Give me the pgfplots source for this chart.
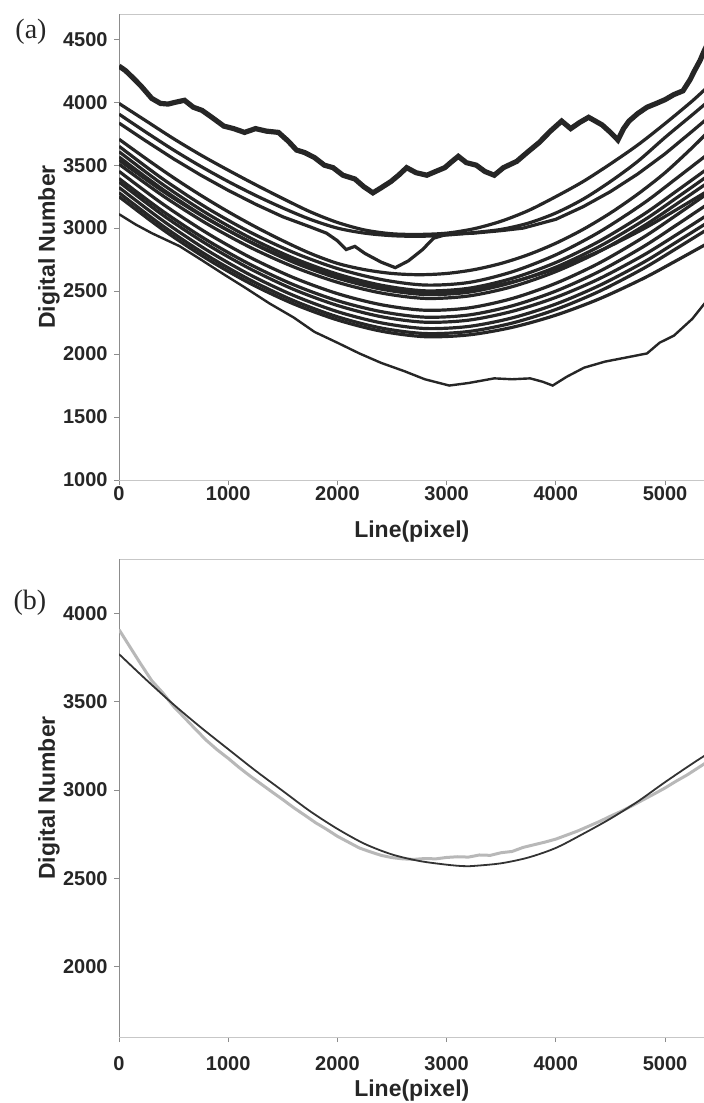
\documentclass[border=0pt]{standalone}
\usepackage{fontspec}
\setmainfont{Liberation Sans}
\newfontfamily\panelfont{Liberation Serif}
\usepackage{pgfplots}
\pgfplotsset{compat=1.18}

\pgfplotsset{
  dnaxis/.style={
    scale only axis,
    width=300pt,
    xmin=0, xmax=5494,
    separate axis lines,
    x axis line style={black!22},
    y axis line style={black!45},
    xtick={0,1000,...,5000},
    xtick pos=left, ytick pos=left,
    tick align=outside,
    major tick length=2.5pt,
    tick style={black!45, line width=0.5pt},
    scaled ticks=false,
    /pgf/number format/1000 sep={},
    /pgf/number format/assume math mode=true,
    tick label style={font=\bfseries\fontsize{10}{12}\selectfont, text=black!85},
    yticklabel style={inner sep=0pt, xshift=-3pt},
    label style={font=\bfseries\fontsize{11.5}{13}\selectfont, text=black!85},
    ylabel={Digital Number},
    xlabel={Line(pixel)},
    ylabel style={at={([xshift=-35pt]axis description cs:0,0.5)}, anchor=center},
    clip=true,
  },
  crv/.style={black!85, line width=1.6pt, smooth, no markers},
}

\begin{document}
\begin{tikzpicture}
\path[use as bounding box] (0,0) rectangle (352pt,-551.5pt);

% ---------------- (a) ----------------
\begin{axis}[dnaxis,
    at={(59.5pt,-240pt)}, anchor=south west,
    height=233pt,
    ymin=1000, ymax=4700,
    ytick={1000,1500,...,4500},
    xticklabel style={inner sep=0pt, yshift=-0.5pt},
    xlabel style={at={([yshift=-26pt]axis description cs:0.488,0)}, anchor=center},
]
% top profile
\addplot[black!85, line width=2.6pt, no markers] coordinates {
(0,4287) (60,4250) (120,4200) (200,4130) (300,4030) (380,3990) (450,3985) (520,4000)
(600,4015) (680,3960) (760,3935) (850,3880) (960,3810) (1050,3790) (1150,3760) (1250,3790)
(1350,3770) (1460,3760) (1550,3690) (1625,3620) (1700,3600) (1790,3560) (1880,3500) (1960,3480)
(2050,3420) (2160,3390) (2240,3330) (2325,3280) (2400,3320) (2490,3370) (2560,3420) (2634,3480)
(2720,3440) (2819,3420) (2900,3450) (2983,3480) (3050,3530) (3107,3570) (3180,3520) (3271,3500)
(3350,3450) (3436,3420) (3520,3480) (3642,3530) (3750,3610) (3848,3680) (3950,3770) (4053,3850)
(4136,3790) (4220,3840) (4300,3880) (4423,3820) (4500,3760) (4568,3700) (4620,3790) (4670,3850)
(4750,3910) (4835,3960) (4920,3990) (5000,4020) (5080,4060) (5164,4090) (5230,4180) (5267,4245)
(5320,4330) (5362,4415) (5400,4480)};
% upper group
\addplot[crv] coordinates {
(0,3990) (250,3850) (500,3710) (750,3580) (1000,3460) (1250,3345) (1500,3235) (1750,3130)
(2000,3045) (2250,2985) (2500,2955) (2750,2950) (3000,2960) (3250,2995) (3500,3055) (3750,3140)
(4000,3250) (4250,3370) (4500,3510) (4750,3660) (5000,3830) (5250,4010) (5400,4130)};
\addplot[crv] coordinates {
(0,3905) (250,3760) (500,3620) (750,3490) (1000,3370) (1250,3260) (1500,3160) (1750,3070)
(2000,3000) (2250,2960) (2500,2940) (2750,2935) (3000,2945) (3250,2965) (3500,2990) (3750,3040)
(4000,3120) (4250,3230) (4500,3370) (4750,3530) (5000,3720) (5250,3900) (5400,4010)};
\addplot[black!85, line width=1.6pt, no markers] coordinates {
(0,3834) (250,3690) (500,3550) (750,3420) (1000,3300) (1250,3190) (1500,3090) (1750,3010)
(1900,2960) (2000,2900) (2080,2830) (2160,2855) (2250,2800) (2400,2730) (2530,2686) (2650,2740)
(2780,2830) (2880,2920) (3000,2950) (3250,2960) (3500,2980) (3700,3000) (4000,3070) (4250,3170)
(4500,3290) (4750,3430) (5000,3590) (5250,3770) (5400,3880)};
\addplot[crv] coordinates {
(0,3706) (250,3550) (500,3400) (750,3260) (1000,3130) (1250,3010) (1500,2900) (1750,2800)
(2000,2720) (2250,2670) (2500,2640) (2750,2630) (3000,2640) (3250,2670) (3500,2720) (3750,2790)
(4000,2880) (4250,2990) (4500,3120) (4750,3270) (5000,3440) (5250,3640) (5400,3770)};
% main bundle
\addplot[crv] coordinates {(0,3650) (400,3391) (800,3163) (1200,2968) (1600,2806) (2000,2679) (2400,2592) (2800,2548) (3200,2568) (3600,2653) (4000,2788) (4400,2970) (4800,3195) (5100,3392) (5400,3593)};
\addplot[crv] coordinates {(0,3607) (400,3347) (800,3119) (1200,2923) (1600,2761) (2000,2635) (2400,2547) (2800,2502) (3200,2522) (3600,2601) (4000,2727) (4400,2897) (4800,3107) (5100,3291) (5400,3479)};
\addplot[crv] coordinates {(0,3565) (400,3308) (800,3082) (1200,2889) (1600,2728) (2000,2603) (2400,2516) (2800,2473) (3200,2491) (3600,2568) (4000,2690) (4400,2855) (4800,3059) (5100,3237) (5400,3420)};
\addplot[crv] coordinates {(0,3508) (400,3258) (800,3037) (1200,2848) (1600,2692) (2000,2570) (2400,2485) (2800,2442) (3200,2461) (3600,2535) (4000,2655) (4400,2815) (4800,3015) (5100,3188) (5400,3366)};
\addplot[crv] coordinates {(0,3540) (400,3294) (800,3077) (1200,2892) (1600,2738) (2000,2618) (2400,2534) (2800,2492) (3200,2508) (3600,2573) (4000,2678) (4400,2818) (4800,2993) (5100,3144) (5400,3300)};
% lower bundle
\addplot[crv] coordinates {(0,3451) (400,3192) (800,2964) (1200,2768) (1600,2606) (2000,2480) (2400,2392) (2800,2348) (3200,2366) (3600,2441) (4000,2562) (4400,2724) (4800,2926) (5100,3101) (5400,3281)};
\addplot[crv] coordinates {(0,3394) (400,3135) (800,2907) (1200,2712) (1600,2550) (2000,2424) (2400,2337) (2800,2293) (3200,2310) (3600,2383) (4000,2500) (4400,2657) (4800,2852) (5100,3022) (5400,3196)};
\addplot[crv] coordinates {(0,3366) (400,3104) (800,2874) (1200,2677) (1600,2513) (2000,2386) (2400,2297) (2800,2253) (3200,2269) (3600,2339) (4000,2450) (4400,2599) (4800,2784) (5100,2945) (5400,3111)};
\addplot[crv] coordinates {(0,3323) (400,3060) (800,2828) (1200,2629) (1600,2465) (2000,2337) (2400,2248) (2800,2203) (3200,2219) (3600,2287) (4000,2397) (4400,2545) (4800,2727) (5100,2887) (5400,3050)};
\addplot[crv] coordinates {(0,3281) (400,3018) (800,2787) (1200,2589) (1600,2424) (2000,2296) (2400,2207) (2800,2163) (3200,2179) (3600,2246) (4000,2354) (4400,2499) (4800,2679) (5100,2836) (5400,2997)};
\addplot[crv] coordinates {(0,3250) (400,2989) (800,2759) (1200,2561) (1600,2398) (2000,2271) (2400,2182) (2800,2138) (3200,2152) (3600,2212) (4000,2309) (4400,2439) (4800,2600) (5100,2740) (5400,2884)};
% lowest profile
\addplot[black!85, line width=1.2pt, no markers] coordinates {
(0,3111) (150,3030) (300,2960) (556,2856) (750,2750) (967,2629) (1150,2530) (1378,2402)
(1600,2290) (1790,2176) (2000,2090) (2201,2005) (2400,1930) (2613,1864) (2800,1800) (3024,1750)
(3200,1770) (3436,1807) (3600,1800) (3765,1807) (3880,1780) (3971,1750) (4100,1820) (4259,1892)
(4450,1940) (4670,1977) (4835,2005) (4950,2090) (5082,2147) (5250,2280) (5362,2402) (5400,2430)};
\end{axis}
\node[font=\panelfont\fontsize{14}{16}\selectfont, text=black!85] at (15.5pt,-16pt) {(a)};

% ---------------- (b) ----------------
\begin{axis}[dnaxis,
    at={(59.5pt,-518.5pt)}, anchor=south west,
    height=239pt,
    ymin=1600, ymax=4310,
    ytick={2000,2500,...,4000},
    xticklabel style={inner sep=0pt, yshift=-7pt},
    xlabel style={at={([yshift=-27pt]axis description cs:0.488,0)}, anchor=center},
]
% measured profile
\addplot[black!28, line width=1.5pt, no markers] coordinates {
(0,3910) (100,3812) (200,3714) (300,3620) (400,3552) (500,3474) (600,3410) (700,3345)
(800,3282) (900,3228) (1000,3180) (1100,3128) (1200,3080) (1300,3035) (1400,2990) (1500,2946)
(1600,2900) (1700,2858) (1800,2815) (1900,2778) (2000,2738) (2100,2705) (2200,2672) (2300,2650)
(2400,2630) (2500,2617) (2600,2610) (2700,2607) (2800,2612) (2900,2610) (3000,2618) (3100,2622)
(3200,2620) (3300,2632) (3400,2630) (3500,2645) (3600,2652) (3700,2675) (3800,2690) (3900,2705)
(4000,2722) (4100,2745) (4200,2768) (4300,2795) (4400,2822) (4500,2852) (4600,2880) (4700,2912)
(4800,2945) (4900,2978) (5000,3012) (5100,3050) (5200,3085) (5300,3125) (5400,3165)};
% fitted curve
\addplot[black!80, line width=0.9pt, smooth, no markers] coordinates {
(0,3771) (250,3625) (500,3485) (750,3355) (1000,3232) (1250,3110) (1500,2995) (1750,2880)
(2000,2780) (2250,2695) (2500,2635) (2750,2598) (3000,2577) (3150,2569) (3250,2570) (3500,2585)
(3750,2618) (4000,2672) (4250,2752) (4500,2838) (4750,2935) (5000,3045) (5250,3150) (5400,3210)};
\end{axis}
\node[font=\panelfont\fontsize{14}{16}\selectfont, text=black!85] at (15pt,-301.5pt) {(b)};
\end{tikzpicture}
\end{document}
